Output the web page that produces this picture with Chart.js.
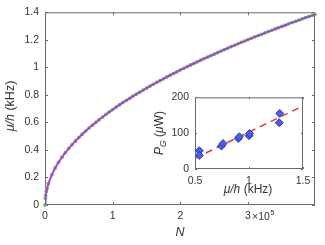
<!DOCTYPE html>
<html><head><meta charset="utf-8">
<script src="https://cdn.jsdelivr.net/npm/chart.js@4.4.1/dist/chart.umd.min.js"></script>
<style>
html,body{margin:0;padding:0;background:#fff;}
#wrap{position:relative;width:325px;height:245px;overflow:hidden;}
#main{position:absolute;left:0;top:0;}
#inset{position:absolute;left:140px;top:85px;}
</style></head><body>
<div id="wrap">
<canvas id="main" width="325" height="245"></canvas>
<canvas id="inset" width="185" height="120"></canvas>
</div>
<script>
// ---- main panel data: atom number N (units of 1e5) vs chemical potential mu/h (kHz)
const atomNumber = [0,0.005,0.01,0.02,0.03,0.05,0.10,0.15,0.20,0.25,0.30,0.35,0.40,0.45,0.50,0.55,0.60,0.65,0.70,0.75,0.80,0.85,0.90,0.95,1.00,
  1.05,1.10,1.15,1.20,1.25,1.30,1.35,1.40,1.45,1.50,1.55,1.60,1.65,1.70,1.75,1.80,1.85,1.90,1.95,2.00,
  2.05,2.10,2.15,2.20,2.25,2.30,2.35,2.40,2.45,2.50,2.55,2.60,2.65,2.70,2.75,2.80,2.85,2.90,2.95,3.00,
  3.05,3.10,3.15,3.20,3.25,3.30,3.35,3.40,3.45,3.50,3.55,3.60,3.65,3.70,3.75,3.80,3.85,3.90,3.95,3.99];
const chemPotential = [0,0.049,0.069,0.098,0.120,0.155,0.219,0.269,0.310,0.347,0.380,0.410,0.439,0.465,0.490,0.514,0.537,0.559,0.580,0.600,0.620,0.639,0.658,0.676,0.693,
  0.711,0.727,0.744,0.760,0.775,0.791,0.806,0.820,0.835,0.849,0.863,0.877,0.891,0.904,0.917,0.930,0.943,0.956,0.968,0.981,
  0.993,1.005,1.017,1.028,1.040,1.052,1.063,1.074,1.085,1.096,1.107,1.118,1.129,1.139,1.150,1.160,1.171,1.181,1.191,1.201,
  1.211,1.221,1.231,1.240,1.250,1.260,1.269,1.279,1.288,1.297,1.306,1.316,1.325,1.334,1.343,1.352,1.361,1.369,1.378,1.385];
const mainXTicks = [0,1,2,3];
const mainYTicks = [0,0.2,0.4,0.6,0.8,1.0,1.2,1.4];
const mainXMax = 3.99;
const mainYMax = 1.4;

// ---- inset data: mu/h (kHz) vs P_G (uW)
const insetMu    = [0.54, 0.54, 0.745, 0.76, 0.90, 0.91, 1.00, 1.005, 1.28, 1.285];
const insetPower = [51,   38,   64,    71,   85,   90,   93,   99,    129,  155];
const fitMu    = [0.5, 1.5];
const fitPower = [30, 176];
const insetXTicks = [0.5, 1, 1.5];
const insetYTicks = [0, 100, 200];

const FONT = 'Liberation Sans';
const AXIS = '#6a6a6a';
const TXT = '#333333';

function pts(xs, ys){ return xs.map((x,i)=>({x:x, y:ys[i]})); }

const framePlugin = {
  id:'frame',
  beforeDatasetsDraw(chart, args, o){
    const {ctx, chartArea:a, scales} = chart;
    ctx.save();
    ctx.fillStyle = '#fff';
    ctx.strokeStyle = AXIS; ctx.lineWidth = 1;
    ctx.strokeRect(a.left+0.5, a.top+0.5, a.right-a.left-1, a.bottom-a.top-1);
    const L = o.len;
    ctx.beginPath();
    o.xt.forEach(v=>{ const p = Math.round(scales.x.getPixelForValue(v))+0.5;
      ctx.moveTo(p, a.bottom); ctx.lineTo(p, a.bottom-L);
      ctx.moveTo(p, a.top); ctx.lineTo(p, a.top+L); });
    o.yt.forEach(v=>{ const p = Math.round(scales.y.getPixelForValue(v))+0.5;
      ctx.moveTo(a.left, p); ctx.lineTo(a.left+L, p);
      ctx.moveTo(a.right, p); ctx.lineTo(a.right-L, p); });
    ctx.stroke();
    ctx.restore();
  },
  beforeDraw(chart, args, o){
    if(!o.bg) return;
    const {ctx, chartArea:a} = chart;
    ctx.save(); ctx.fillStyle='#fff'; ctx.fillRect(a.left,a.top,a.right-a.left,a.bottom-a.top); ctx.restore();
  }
};

function drawParts(ctx, parts, size){
  // parts: [{t, it, sub, sup}] drawn left to right starting from current origin, centered
  let w = 0;
  const fonts = parts.map(p=>{
    const s = (p.sub||p.sup) ? size*0.72 : size;
    const f = (p.it?'italic ':'') + s + 'px "' + FONT + '"';
    ctx.font = f; const m = ctx.measureText(p.t).width; w += m; return {f, m};
  });
  let x = -w/2;
  parts.forEach((p,i)=>{
    ctx.font = fonts[i].f;
    const dy = p.sub ? size*0.32 : (p.sup ? -size*0.4 : 0);
    ctx.fillText(p.t, x, dy);
    x += fonts[i].m;
  });
}

const titlesPlugin = {
  id:'titles',
  afterDraw(chart, args, o){
    const ctx = chart.ctx;
    ctx.save();
    ctx.fillStyle = TXT; ctx.textBaseline = 'middle'; ctx.textAlign = 'left';
    o.items.forEach(it=>{
      ctx.save();
      ctx.translate(it.x, it.y);
      if(it.rot) ctx.rotate(-Math.PI/2);
      drawParts(ctx, it.parts, it.size);
      ctx.restore();
    });
    if(o.exp){
      ctx.textBaseline = 'alphabetic';
      ctx.font = '10.5px "' + FONT + '"';
      ctx.fillText('\u00d710', o.exp.x, o.exp.y);
      const w = ctx.measureText('\u00d710').width;
      ctx.font = '7.5px "' + FONT + '"';
      ctx.fillText('5', o.exp.x + w + 0.5, o.exp.y - 5);
    }
    ctx.restore();
  }
};

const tickFont = {family: FONT, size: 10.5};

new Chart(document.getElementById('main'), {
  type:'scatter',
  data:{ datasets:[
    { data: pts(atomNumber, chemPotential), showLine:true, borderColor:'#b23fd8', borderWidth:2,
      pointRadius:0, fill:false, tension:0 },
    { data: pts(atomNumber, chemPotential), showLine:false, pointRadius:1.9, pointStyle:'circle',
      backgroundColor:'#4fd34f', borderWidth:0, clip:false }
  ]},
  options:{
    responsive:false, animation:false, devicePixelRatio:1,
    layout:{padding:{left:0, top:7, right:10, bottom:0}},
    plugins:{ legend:{display:false}, tooltip:{enabled:false},
      frame:{len:3, xt: mainXTicks, yt: mainYTicks},
      titles:{ items:[
        {x:11, y:106, rot:true, size:12.5, parts:[{t:'\u03bc/h', it:true},{t:' (kHz)'}]},
        {x:180, y:233, size:12.5, parts:[{t:'N', it:true}]}
      ], exp:{x:252, y:219.5} }
    },
    scales:{
      x:{ type:'linear', min:0, max:mainXMax,
        afterFit: s=>{ s.height = 40; },
        afterBuildTicks: s=>{ s.ticks = mainXTicks.map(v=>({value:v})); },
        grid:{display:false, drawTicks:false}, border:{display:false},
        ticks:{ font:tickFont, color:TXT, padding:5, maxRotation:0, autoSkip:false,
          callback: v => String(v) } },
      y:{ type:'linear', min:0, max:mainYMax,
        afterFit: s=>{ s.width = 45; },
        afterBuildTicks: s=>{ s.ticks = mainYTicks.map(v=>({value:v})); },
        grid:{display:false, drawTicks:false}, border:{display:false},
        ticks:{ font:tickFont, color:TXT, padding:6, autoSkip:false,
          callback: v => String(Number(v.toFixed(1))) } }
    }
  },
  plugins:[framePlugin, titlesPlugin]
});

new Chart(document.getElementById('inset'), {
  type:'scatter',
  data:{ datasets:[
    { data: pts(insetMu, insetPower), showLine:false, pointStyle:'rectRot', pointRadius:4,
      backgroundColor:'#4a5fe0', borderColor:'#2c3cc0', borderWidth:1 },
    { data: pts(fitMu, fitPower), showLine:true, borderColor:'#e23a3a', borderWidth:1.5,
      borderDash:[7,5], pointRadius:0, fill:false }
  ]},
  options:{
    responsive:false, animation:false, devicePixelRatio:1,
    layout:{padding:{left:0, top:12, right:22, bottom:0}},
    plugins:{ legend:{display:false}, tooltip:{enabled:false},
      frame:{len:2, xt: insetXTicks, yt: insetYTicks, bg:true},
      titles:{ items:[
        {x:20, y:48, rot:true, size:12, parts:[{t:'P', it:true},{t:'G', it:true, sub:true},{t:' ('},{t:'\u03bc', it:true},{t:'W)'}]},
        {x:108, y:105, size:12, parts:[{t:'\u03bc/h', it:true},{t:' (kHz)'}]}
      ] }
    },
    scales:{
      x:{ type:'linear', min:0.5, max:1.5,
        afterFit: s=>{ s.height = 36; },
        afterBuildTicks: s=>{ s.ticks = insetXTicks.map(v=>({value:v})); },
        grid:{display:false, drawTicks:false}, border:{display:false},
        ticks:{ font:tickFont, color:TXT, padding:6, maxRotation:0, autoSkip:false,
          callback: v => String(v) } },
      y:{ type:'linear', min:0, max:200,
        afterFit: s=>{ s.width = 55; },
        afterBuildTicks: s=>{ s.ticks = insetYTicks.map(v=>({value:v})); },
        grid:{display:false, drawTicks:false}, border:{display:false},
        ticks:{ font:tickFont, color:TXT, padding:6, autoSkip:false,
          callback: v => String(v) } }
    }
  },
  plugins:[framePlugin, titlesPlugin]
});
</script>
</body></html>
